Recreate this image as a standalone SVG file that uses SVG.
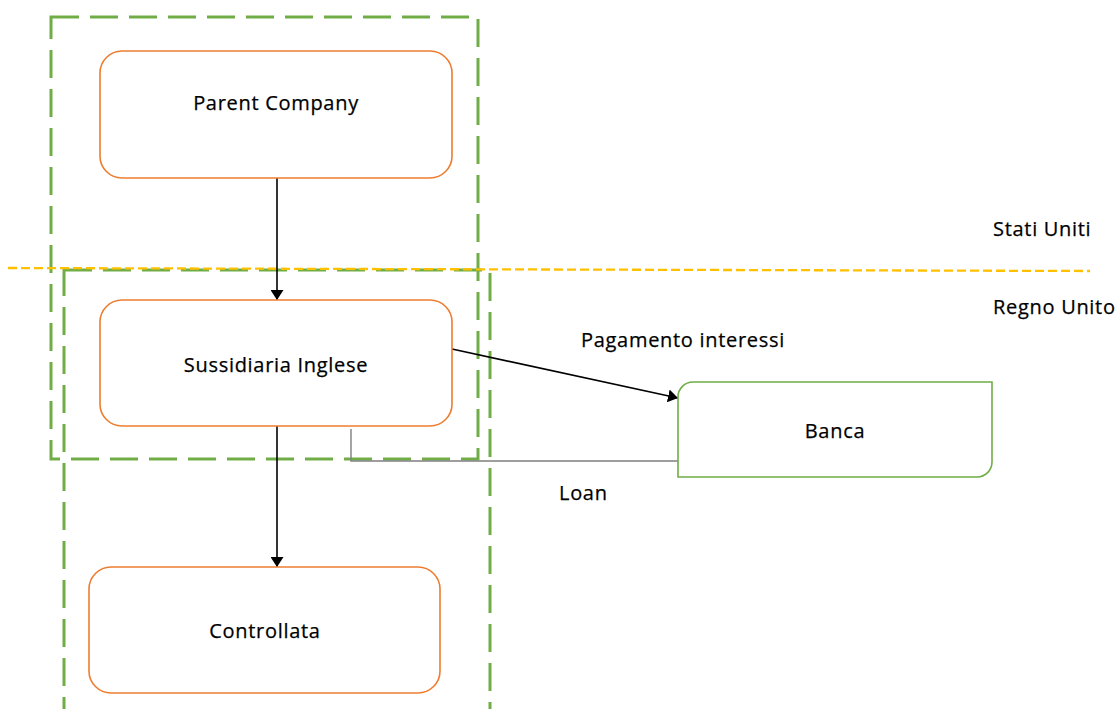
<svg xmlns="http://www.w3.org/2000/svg" width="1120" height="709" viewBox="0 0 1120 709">
  <style>
    .region { fill: none; stroke: #70AD47; stroke-width: 3; stroke-dasharray: 28 11; }
    .border { fill: none; stroke: #FFC000; stroke-width: 2.3; stroke-dasharray: 9 4; }
    .entity { fill: #FFFFFF; stroke: #ED7D31; stroke-width: 1.6; }
    .bank { fill: #FFFFFF; stroke: #70AD47; stroke-width: 1.6; }
    .flow { fill: none; stroke: #000000; stroke-width: 1.6; }
    .loan { fill: none; stroke: #7F7F7F; stroke-width: 1.4; }
    text { font-family: "Open Sans", "Liberation Sans", sans-serif; font-size: 20px; letter-spacing: 0.7px; fill: #000000; stroke: #000000; stroke-width: 0.25; }
    .c { text-anchor: middle; }
  </style>
  <defs>
    <marker id="arrow" viewBox="0 0 10 13" refX="10" refY="6.5" markerWidth="10" markerHeight="13" markerUnits="userSpaceOnUse" orient="auto">
      <path d="M0,0 L10,6.5 L0,13 Z" fill="#000000"/>
    </marker>
  </defs>
  <rect width="1120" height="709" fill="#FFFFFF"/>

  <!-- jurisdiction boundaries -->
  <g id="regions">
    <rect class="region" x="51" y="17" width="427" height="442"/>
    <rect class="region" x="64" y="270" width="426" height="445"/>
    <line class="border" x1="8" y1="268" x2="1090" y2="271"/>
  </g>

  <g id="connectors">
    <line class="flow" x1="277" y1="175" x2="277" y2="300" marker-end="url(#arrow)"/>
    <line class="flow" x1="277" y1="426" x2="277" y2="567" marker-end="url(#arrow)"/>
    <line class="flow" x1="452" y1="349" x2="678" y2="398" marker-end="url(#arrow)"/>
    <polyline class="loan" points="351,429 351,461 678,461"/>
  </g>

  <g id="parent">
    <rect class="entity" x="100" y="51" width="352" height="127" rx="22"/>
    <text class="c" x="276" y="110">Parent Company</text>
  </g>
  <g id="sussidiaria">
    <rect class="entity" x="100" y="300" width="352" height="126" rx="22"/>
    <text class="c" x="276" y="372">Sussidiaria Inglese</text>
  </g>
  <g id="controllata">
    <rect class="entity" x="89" y="567" width="351" height="126" rx="22"/>
    <text class="c" x="265" y="638">Controllata</text>
  </g>
  <g id="banca">
    <path class="bank" d="M693,382 H992 V462 A15,15 0 0 1 977,477 H678 V397 A15,15 0 0 1 693,382 Z"/>
    <text class="c" x="835" y="438">Banca</text>
  </g>

  <g id="labels">
    <text x="993" y="236">Stati Uniti</text>
    <text x="993" y="314">Regno Unito</text>
    <text x="581" y="347">Pagamento interessi</text>
    <text x="559" y="500">Loan</text>
  </g>
</svg>
